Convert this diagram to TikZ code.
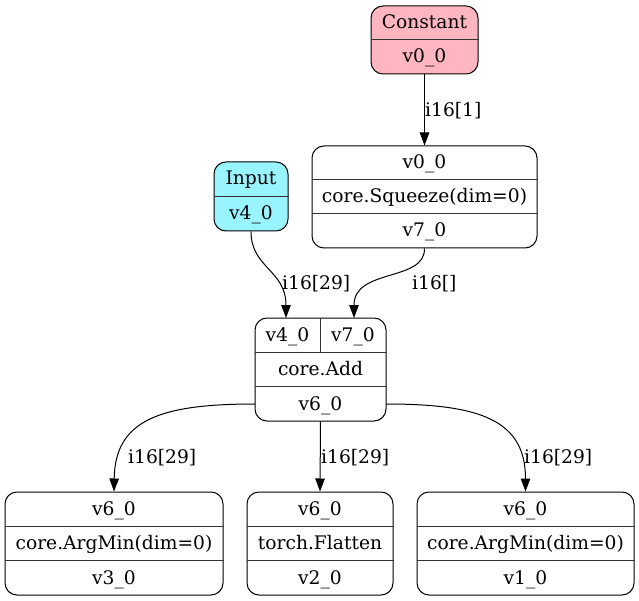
\documentclass[tikz,border=0pt]{standalone}
\usepackage{fontspec}
\setmainfont{DejaVu Serif}
\usetikzlibrary{arrows.meta}
\definecolor{pinkfill}{HTML}{FFB6C1}
\definecolor{cyanfill}{HTML}{98F5FF}
\tikzset{
  rec/.style={draw=black, line width=1pt, rounded corners=12pt, inner sep=0pt, rectangle},
  div/.style={draw=black!80, line width=1pt},
  txt/.style={font=\fontsize{18.67}{22}\selectfont, inner sep=0pt, anchor=base},
  elbl/.style={font=\fontsize{18.67}{22}\selectfont, inner sep=0pt, anchor=base west},
  edge/.style={draw=black, line width=1pt, -{Triangle[length=13pt,width=9.5pt]}},
}
\begin{document}
\begin{tikzpicture}[x=1pt,y=-1pt]
\useasboundingbox (0,0) rectangle (639,601);
% Constant
\node[rec, fill=pinkfill, minimum width=107pt, minimum height=68pt] (const) at (424.5,40) {};
\draw[div] (const.west |- 0,40) -- (const.east |- 0,40);
\node[txt] (constA) at (424.5,29) {Constant};
\node[txt] (constB) at (424.5,63) {v0\_0};
% Squeeze
\node[rec, minimum width=225pt, minimum height=102pt] (sq) at (424.5,197) {};
\draw[div] (sq.west |- 0,180) -- (sq.east |- 0,180);
\draw[div] (sq.west |- 0,214) -- (sq.east |- 0,214);
\node[txt] (sqA) at (424.5,169) {v0\_0};
\node[txt] (sqB) at (424.5,203) {core.Squeeze(dim=0)};
\node[txt] (sqC) at (424.5,237) {v7\_0};
% Input
\node[rec, fill=cyanfill, minimum width=74pt, minimum height=69pt] (inp) at (251,196.5) {};
\draw[div] (inp.west |- 0,196.5) -- (inp.east |- 0,196.5);
\node[txt] (inpA) at (251,185) {Input};
\node[txt] (inpB) at (251,220) {v4\_0};
% Add
\node[rec, minimum width=131pt, minimum height=103pt] (add) at (320.5,369.5) {};
\draw[div] (add.west |- 0,352.5) -- (add.east |- 0,352.5);
\draw[div] (add.west |- 0,386.5) -- (add.east |- 0,386.5);
\draw[div] (320,318) -- (320,352.5);
\node[txt] (addA) at (287.5,341) {v4\_0};
\node[txt] (addB) at (353,341) {v7\_0};
\node[txt] (addC) at (320.5,375.5) {core.Add};
\node[txt] (addD) at (320.5,410) {v6\_0};
\coordinate (addp1) at (286,318);
\coordinate (addp2) at (354,318);
\coordinate (addw) at (255,404);
\coordinate (adde) at (386,404);
% Bottom nodes
\node[rec, minimum width=218pt, minimum height=103pt] (lft) at (114,543.5) {};
\draw[div] (lft.west |- 0,526.5) -- (lft.east |- 0,526.5);
\draw[div] (lft.west |- 0,560.5) -- (lft.east |- 0,560.5);
\node[txt] (lftA) at (114,515) {v6\_0};
\node[txt] (lftB) at (114,549.5) {core.ArgMin(dim=0)};
\node[txt] (lftC) at (114,584) {v3\_0};
\node[rec, minimum width=146pt, minimum height=103pt] (mid) at (320,543.5) {};
\draw[div] (mid.west |- 0,526.5) -- (mid.east |- 0,526.5);
\draw[div] (mid.west |- 0,560.5) -- (mid.east |- 0,560.5);
\node[txt] (midA) at (320,515) {v6\_0};
\node[txt] (midB) at (320,549.5) {torch.Flatten};
\node[txt] (midC) at (320,584) {v2\_0};
\node[rec, minimum width=217pt, minimum height=103pt] (rgt) at (525.5,543.5) {};
\draw[div] (rgt.west |- 0,526.5) -- (rgt.east |- 0,526.5);
\draw[div] (rgt.west |- 0,560.5) -- (rgt.east |- 0,560.5);
\node[txt] (rgtA) at (525.5,515) {v6\_0};
\node[txt] (rgtB) at (525.5,549.5) {core.ArgMin(dim=0)};
\node[txt] (rgtC) at (525.5,584) {v1\_0};
% Edges
\draw[edge] (const.south) -- (sq.north);
\node[elbl] (l1) at (425,116.5) {i16[1]};
\draw[edge] (inp.south) .. controls (251,268) and (286,270) .. (addp1);
\node[elbl] (l2) at (282,290) {i16[29]};
\draw[edge] (sq.south) .. controls (425,282) and (354,268) .. (addp2);
\node[elbl] (l3) at (412,290) {i16[]};
\draw[edge] (addw) .. controls (160,404) and (115,420) .. (lft.north);
\node[elbl] (l4) at (128,463) {i16[29]};
\draw[edge] (add.south) -- (mid.north);
\node[elbl] (l5) at (321,463) {i16[29]};
\draw[edge] (adde) .. controls (480,404) and (525.5,420) .. (rgt.north);
\node[elbl] (l6) at (524,463) {i16[29]};
\end{tikzpicture}
\end{document}
